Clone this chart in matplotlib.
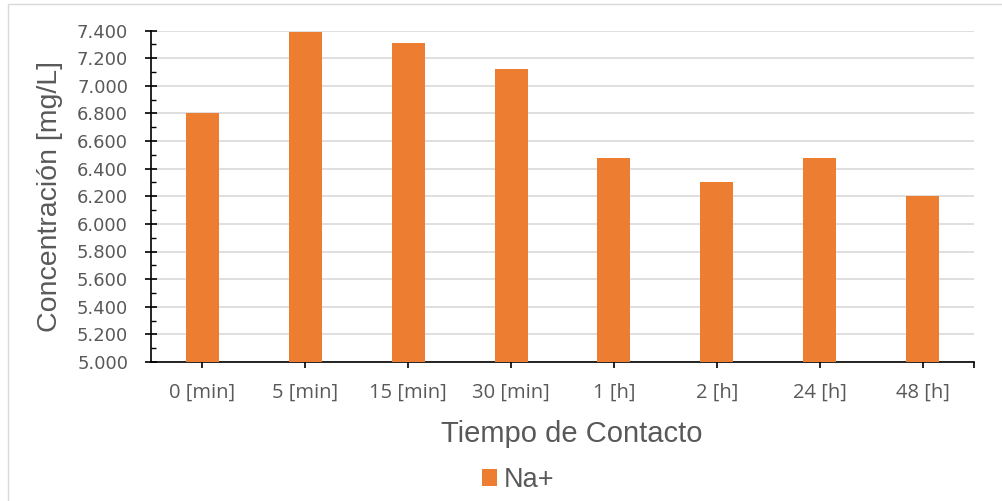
import matplotlib
matplotlib.use("Agg")
import matplotlib.pyplot as plt
from matplotlib.ticker import FuncFormatter, MultipleLocator, FixedLocator
from matplotlib.patches import Rectangle

categories = ["0 [min]", "5 [min]", "15 [min]", "30 [min]", "1 [h]", "2 [h]", "24 [h]", "48 [h]"]
na_values = [6800, 7390, 7310, 7120, 6475, 6300, 6480, 6200]
series_name = "Na+"

BAR = "#ED7D31"
TEXT = "#595959"
GRID = "#D9D9D9"

fig = plt.figure(figsize=(10.03, 5.01), dpi=100)
fig.patch.set_facecolor("white")

# light chart-area border
fig.patches.append(Rectangle((8 / 1003, -0.05), 1.2, 1 - 4 / 501 + 0.05,
                             transform=fig.transFigure, fill=False,
                             edgecolor="#D9D9D9", linewidth=1.0))

ax = fig.add_axes([151 / 1003, 1 - 362 / 501, (974 - 151) / 1003, (362 - 30.5) / 501])
x = list(range(len(categories)))
ax.bar(x, na_values, width=0.32, color=BAR, label=series_name, zorder=3)

ax.set_ylim(5000, 7400)
ax.set_xlim(-0.5, len(categories) - 0.5)

ax.yaxis.set_major_locator(MultipleLocator(200))
ax.yaxis.set_minor_locator(MultipleLocator(100))
ax.yaxis.set_major_formatter(FuncFormatter(lambda v, p: f"{v:,.0f}".replace(",", ".")))
ax.grid(axis="y", which="major", color=GRID, linewidth=1.2, zorder=0)
ax.set_axisbelow(True)

ax.set_xticks(x)
ax.set_xticklabels(categories, fontfamily="Open Sans", fontsize=14.5, color=TEXT)
ax.xaxis.set_minor_locator(FixedLocator([len(categories) - 0.5]))

for s in ["top", "right"]:
    ax.spines[s].set_visible(False)
for s in ["left", "bottom"]:
    ax.spines[s].set_color("black")
    ax.spines[s].set_linewidth(1.2)

ax.tick_params(axis="y", which="major", direction="inout", length=9, width=1.2,
               color="black", pad=12, labelsize=13, labelcolor=TEXT)
ax.tick_params(axis="y", which="minor", direction="in", length=3.4, width=1.0, color="black")
ax.tick_params(axis="x", which="major", direction="out", length=4, width=1.2,
               color="black", pad=11)
ax.tick_params(axis="x", which="minor", direction="out", length=4, width=1.2, color="black")
for lbl in ax.get_yticklabels():
    lbl.set_fontfamily("DejaVu Sans")

fig.text(50 / 1003, 1 - 197 / 501, "Concentración [mg/L]", rotation=90,
         ha="center", va="center", fontsize=20.5, color=TEXT, fontfamily="Liberation Sans")
fig.text(572 / 1003, 1 - 434 / 501, "Tiempo de Contacto",
         ha="center", va="center", fontsize=21, color=TEXT, fontfamily="Liberation Sans")

fig.legend(loc="center", bbox_to_anchor=(518 / 1003, 1 - 480 / 501), frameon=False,
           handlelength=0.55, handleheight=0.55, handletextpad=0.25,
           prop={"family": "Liberation Sans", "size": 19.5}, labelcolor=TEXT)

fig.savefig("out.png", dpi=100, facecolor="white")
